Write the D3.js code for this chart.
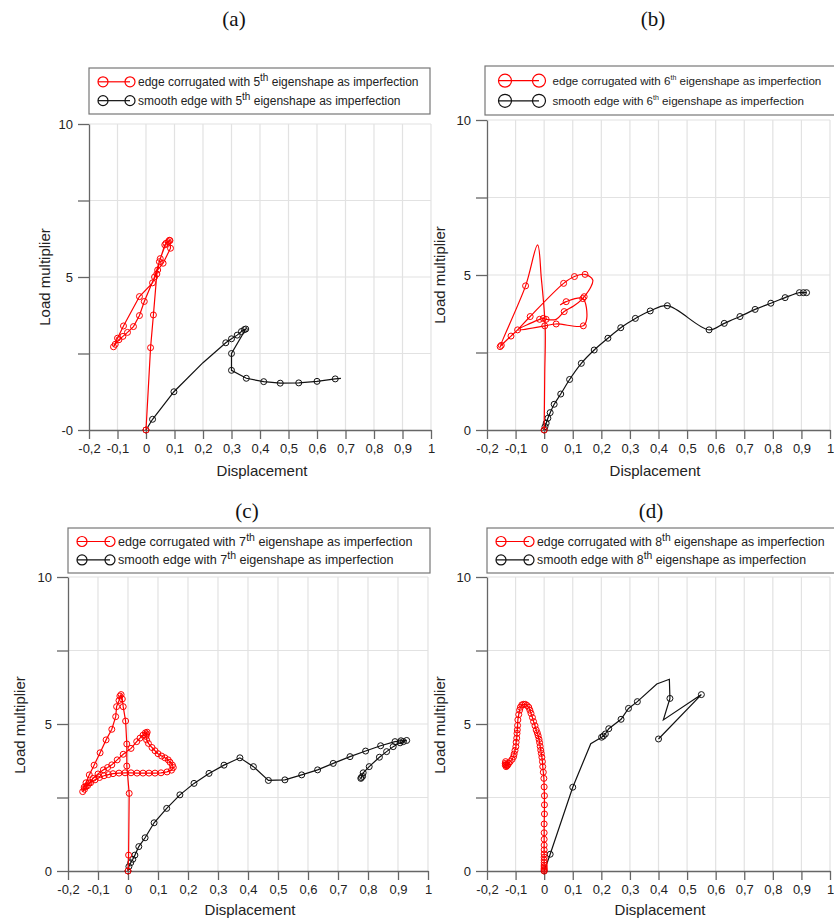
<!DOCTYPE html>
<html>
<head>
<meta charset="utf-8">
<script src="https://cdn.jsdelivr.net/npm/d3@7"></script>
<style>
  body { margin: 0; background: #fff; }
  svg { display: block; font-family: "Liberation Sans", Arial, sans-serif; }
</style>
</head>
<body>
<div id="chart"></div>
<script>
// axis ticks
const xTicks = [-0.2, -0.1, 0, 0.1, 0.2, 0.3, 0.4, 0.5, 0.6, 0.7, 0.8, 0.9, 1];
const xTickLabels = ["-0,2", "-0,1", "0", "0,1", "0,2", "0,3", "0,4", "0,5", "0,6", "0,7", "0,8", "0,9", "1"];
const yTicks = [0, 2.5, 5, 7.5, 10];
const yTickLabelsA = ["-0", "", "5", "", "10"];
const yTickLabels = ["0", "", "5", "", "10"];

const panelTitles = ["(a)", "(b)", "(c)", "(d)"];
const eigenOrders = ["5", "6", "7", "8"];

// [displacement, load multiplier, marker(1/0)]
const redA = [[0,0,1],[0.016,2.69,1],[0.026,3.76,1],[0.038,5.1,1],[0.047,5.5,1],[0.066,6.05,1],[0.078,6.15,1],
  [0.084,6.19,1],[0.086,5.94,1],[0.06,5.45,1],[0.041,5.23,1],[0.023,4.81,1],[-0.023,4.36,1],[-0.079,3.4,1],
  [-0.1,3.0,1],[-0.114,2.72,1],[-0.108,2.8,1],[-0.095,2.95,1],[-0.081,3.06,1],[-0.065,3.19,1],[-0.044,3.38,1],
  [-0.023,3.74,1],[-0.006,4.2,1],[0.03,5.0,1],[0.05,5.6,1],[0.07,6.1,1],[0.082,6.2,1]];
const blackA = [[0,0,1],[0.023,0.35,1],[0.098,1.25,1],[0.2,2.2,0],[0.28,2.85,1],[0.3,2.98,1],[0.32,3.1,1],
  [0.335,3.22,1],[0.345,3.28,1],[0.35,3.3,1],[0.3,2.5,1],[0.3,1.95,1],[0.352,1.69,1],[0.413,1.58,1],
  [0.471,1.53,1],[0.536,1.54,1],[0.6,1.59,1],[0.664,1.67,1],[0.684,1.69,0]];

const redB = [[0,0,1],[0.002,1.8,0],[0.0035,3.33,0],[-0.01,4.9,0],[-0.023,5.97,0],[-0.065,4.65,1],[-0.154,2.69,1],
  [-0.15,2.73,1],[-0.116,3.03,1],[-0.093,3.23,1],[-0.049,3.66,1],[0.068,4.73,1],[0.106,4.95,1],[0.143,5.02,1],
  [0.17,4.84,0],[0.161,4.57,0],[0.14,4.3,1],[0.135,4.24,1],[0.103,4.0,0],[0.07,3.82,1],[0.042,3.57,0],
  [0.007,3.57,1],[-0.003,3.6,1],[-0.016,3.57,1],[-0.049,3.44,0],[-0.093,3.23,0],[0.002,3.36,1],[0.042,3.42,1],
  [0.137,3.36,1],[0.149,3.6,0],[0.135,4.24,0],[0.077,4.14,1],[0.056,4.03,0]];
const blackB = [[0,0,1],[0.003,0.11,1],[0.007,0.22,1],[0.013,0.38,1],[0.021,0.56,1],[0.035,0.83,1],[0.058,1.16,1],
  [0.089,1.63,1],[0.13,2.15,1],[0.175,2.58,1],[0.223,2.96,1],[0.268,3.3,1],[0.319,3.6,1],[0.371,3.84,1],
  [0.431,4.01,1],[0.577,3.23,1],[0.63,3.44,1],[0.685,3.66,1],[0.738,3.89,1],[0.793,4.09,1],[0.843,4.27,1],
  [0.893,4.43,1],[0.907,4.43,1],[0.918,4.43,1]];

const redC = [[0,0,1],[0.002,0.54,1],[0.004,2.64,1],[-0.004,3.57,1],[-0.004,4.32,1],[-0.008,5.1,1],[-0.016,5.59,1],
  [-0.019,5.85,1],[-0.023,6.0,1],[-0.027,5.95,1],[-0.03,5.8,1],[-0.038,5.59,1],[-0.041,5.25,1],[-0.054,4.82,1],
  [-0.073,4.46,1],[-0.093,4.02,1],[-0.113,3.6,1],[-0.129,3.27,1],[-0.14,3.0,1],[-0.146,2.85,1],[-0.151,2.7,1],
  [-0.145,2.78,1],[-0.135,2.9,1],[-0.125,3.0,1],[-0.11,3.1,1],[-0.095,3.18,1],[-0.08,3.24,1],[-0.065,3.28,1],
  [-0.05,3.31,1],[-0.03,3.33,1],[-0.01,3.34,1],[0.01,3.34,1],[0.03,3.33,1],[0.05,3.33,1],[0.07,3.33,1],
  [0.09,3.33,1],[0.11,3.34,1],[0.13,3.37,1],[0.145,3.43,1],[0.151,3.52,1],[0.148,3.6,1],[0.14,3.7,1],
  [0.134,3.78,1],[0.123,3.85,1],[0.112,3.91,1],[0.1,3.99,1],[0.09,4.09,1],[0.08,4.2,1],[0.068,4.34,1],
  [0.062,4.46,1],[0.06,4.58,1],[0.062,4.66,1],[0.064,4.72,1],[0.058,4.7,1],[0.05,4.62,1],[0.04,4.52,1],
  [0.029,4.4,1],[0.01,4.17,1],[-0.016,3.97,1],[-0.036,3.78,1],[-0.054,3.61,1],[-0.068,3.52,1],[-0.082,3.44,1],
  [-0.1,3.3,1],[-0.116,3.15,1],[-0.13,3.0,1],[-0.14,2.88,1]];
const blackC = [[0,0,1],[0.003,0.15,1],[0.009,0.28,1],[0.016,0.4,1],[0.023,0.54,1],[0.036,0.83,1],[0.057,1.13,1],
  [0.087,1.64,1],[0.129,2.13,1],[0.173,2.59,1],[0.22,2.98,1],[0.27,3.32,1],[0.32,3.6,1],[0.373,3.85,1],
  [0.418,3.55,1],[0.468,3.08,1],[0.523,3.1,1],[0.579,3.27,1],[0.632,3.44,1],[0.684,3.66,1],[0.74,3.89,1],
  [0.792,4.08,1],[0.842,4.26,1],[0.89,4.4,1],[0.91,4.43,1],[0.929,4.44,1],[0.918,4.4,1],[0.907,4.36,1],
  [0.884,4.23,1],[0.862,4.06,1],[0.838,3.87,1],[0.804,3.55,1],[0.784,3.34,1],[0.776,3.15,1],[0.782,3.22,1],
  [0.778,3.18,1]];

const redD = [[0,0,1],[0,0.05,1],[0,0.09,1],[0,0.14,1],[0,0.2,1],[0,0.28,1],[0,0.37,1],[0,0.47,1],[0,0.58,1],
  [0,0.72,1],[0,0.88,1],[0,1.08,1],[0,1.3,1],[0,1.6,1],[0.001,1.94,1],[0.001,2.25,1],[0.001,2.56,1],
  [0.0,2.86,1],[-0.001,3.15,1],[-0.003,3.36,1],[-0.005,3.55,1],[-0.006,3.72,1],[-0.008,3.87,1],[-0.01,4.0,1],
  [-0.012,4.11,1],[-0.014,4.24,1],[-0.016,4.37,1],[-0.018,4.48,1],[-0.021,4.6,1],[-0.024,4.7,1],[-0.028,4.8,1],
  [-0.032,4.94,1],[-0.037,5.08,1],[-0.041,5.22,1],[-0.046,5.36,1],[-0.05,5.47,1],[-0.054,5.57,1],[-0.06,5.63,1],
  [-0.066,5.67,1],[-0.072,5.67,1],[-0.078,5.65,1],[-0.083,5.57,1],[-0.086,5.47,1],[-0.089,5.32,1],[-0.092,5.14,1],
  [-0.093,4.95,1],[-0.094,4.8,1],[-0.095,4.68,1],[-0.096,4.52,1],[-0.098,4.38,1],[-0.099,4.23,1],[-0.102,4.1,1],
  [-0.105,3.98,1],[-0.107,3.89,1],[-0.112,3.8,1],[-0.119,3.72,1],[-0.124,3.66,1],[-0.128,3.6,1],[-0.133,3.55,1],
  [-0.136,3.6,1],[-0.136,3.66,1],[-0.135,3.72,1],[-0.133,3.62,1],[-0.13,3.58,1]];
const blackD = [[0,0,1],[0.021,0.57,1],[0.1,2.85,1],[0.163,4.33,0],[0.201,4.55,1],[0.207,4.59,1],[0.214,4.66,1],
  [0.226,4.84,1],[0.269,5.16,1],[0.295,5.53,1],[0.326,5.76,1],[0.394,6.36,0],[0.438,6.52,0],[0.44,5.87,1],
  [0.417,5.14,0],[0.55,6.0,1],[0.4,4.49,1]];

const W = 834, H = 920;
const svg = d3.select("#chart").append("svg").attr("width", W).attr("height", H);

const panels = [
  { red: redA, black: blackA, yLabels: yTickLabelsA, x0: 89, x1: 431, yTop: 124, yBot: 430,
    title: [234, 26], legend: [89, 68, 341, 46], lr: 5, gap: 27, fs: 12, sup: 10,
    ylab: [45, 277], xlab: [262, 476], smooth: false },
  { red: redB, black: blackB, yLabels: yTickLabels, x0: 487, x1: 830, yTop: 120, yBot: 430,
    title: [653, 26], legend: [485, 66, 360, 49], lr: 6.5, gap: 34, fs: 11.6, sup: 7,
    ylab: [440, 275], xlab: [655, 476], smooth: true },
  { red: redC, black: blackC, yLabels: yTickLabels, x0: 68, x1: 428, yTop: 577, yBot: 871,
    title: [247, 518], legend: [68, 528, 362, 45], lr: 5, gap: 28, fs: 12.6, sup: 10.5,
    ylab: [20, 725], xlab: [250, 915], smooth: false },
  { red: redD, black: blackD, yLabels: yTickLabels, x0: 487, x1: 830, yTop: 577, yBot: 871,
    title: [651, 518], legend: [487, 528, 360, 45], lr: 5, gap: 28, fs: 12.3, sup: 10.3,
    ylab: [440, 725], xlab: [660, 915], smooth: false }
];

panels.forEach((p, i) => drawPanel(p, i));

function drawPanel(p, i) {
  const x = d3.scaleLinear().domain([-0.2, 1]).range([p.x0, p.x1]);
  const y = d3.scaleLinear().domain([0, 10]).range([p.yBot, p.yTop]);
  const g = svg.append("g");

  // grid
  g.selectAll(".vg").data(xTicks.slice(1)).join("line")
    .attr("x1", d => x(d)).attr("x2", d => x(d))
    .attr("y1", p.yTop).attr("y2", p.yBot)
    .attr("stroke", "#e2e2e2").attr("stroke-width", 1.2);
  g.selectAll(".hg").data(yTicks.slice(1)).join("line")
    .attr("x1", p.x0).attr("x2", p.x1)
    .attr("y1", d => y(d)).attr("y2", d => y(d))
    .attr("stroke", "#e2e2e2").attr("stroke-width", 1.2);

  // axes
  const xAxis = d3.axisBottom(x).tickValues(xTicks)
    .tickFormat((d, k) => xTickLabels[k]).tickSize(9).tickSizeOuter(0).tickPadding(5);
  const gx = g.append("g").attr("transform", `translate(0,${p.yBot})`).call(xAxis);
  const yAxis = d3.axisLeft(y).tickValues(yTicks)
    .tickFormat((d, k) => p.yLabels[k]).tickSize(11).tickSizeOuter(0).tickPadding(5);
  const gy = g.append("g").attr("transform", `translate(${p.x0},0)`).call(yAxis);
  [gx, gy].forEach(a => {
    a.selectAll("path, line").attr("stroke", "#666").attr("stroke-width", 1.3);
    a.selectAll("text").attr("fill", "#222").style("font-size", "13px")
      .style("font-family", "'Liberation Sans', Arial, sans-serif");
  });

  // axis titles
  g.append("text").attr("x", p.xlab[0]).attr("y", p.xlab[1])
    .attr("text-anchor", "middle").attr("font-size", 15).attr("fill", "#222").text("Displacement");
  g.append("text").attr("transform", `translate(${p.ylab[0]},${p.ylab[1]}) rotate(-90)`)
    .attr("text-anchor", "middle").attr("dy", "0.35em").attr("font-size", 15).attr("fill", "#222")
    .text("Load multiplier");

  // panel title
  g.append("text").attr("x", p.title[0]).attr("y", p.title[1])
    .attr("text-anchor", "middle").attr("font-family", "'Liberation Serif', serif")
    .attr("font-size", 21).attr("fill", "#111").text(panelTitles[i]);

  // series
  const line = d3.line().x(d => x(d[0])).y(d => y(d[1]))
    .curve(p.smooth ? d3.curveCatmullRom.alpha(0.5) : d3.curveLinear);
  [[p.black, "#111"], [p.red, "#ff0000"]].forEach(([data, col]) => {
    g.append("path").datum(data).attr("d", line)
      .attr("fill", "none").attr("stroke", col).attr("stroke-width", 1.2);
    g.selectAll(null).data(data.filter(d => d[2])).join("circle")
      .attr("cx", d => x(d[0])).attr("cy", d => y(d[1])).attr("r", 3)
      .attr("fill", "none").attr("stroke", col).attr("stroke-width", 1);
  });

  // legend
  const [lx, ly, lw, lh] = p.legend;
  const lg = g.append("g");
  lg.append("rect").attr("x", lx).attr("y", ly).attr("width", lw).attr("height", lh)
    .attr("fill", "#fff").attr("stroke", "#777").attr("stroke-width", 1.2);
  const rows = [
    { col: "#ff0000", pre: "edge corrugated with " },
    { col: "#111", pre: "smooth edge with " }
  ];
  const c1 = lx + (p.lr > 6 ? 20 : 14), c2 = c1 + p.gap;
  rows.forEach((r, k) => {
    const ry = ly + lh * (k === 0 ? 0.3 : 0.71);
    lg.append("line").attr("x1", c1 - p.lr).attr("x2", c2).attr("y1", ry).attr("y2", ry)
      .attr("stroke", r.col).attr("stroke-width", 1.2);
    [c1, c2].forEach(cx => lg.append("circle").attr("cx", cx).attr("cy", ry).attr("r", p.lr)
      .attr("fill", "none").attr("stroke", r.col).attr("stroke-width", 1.2));
    const t = lg.append("text").attr("x", c2 + p.lr + (p.lr > 6 ? 7 : 3)).attr("y", ry).attr("dy", "0.35em")
      .attr("font-size", p.fs).attr("fill", "#222");
    t.append("tspan").text(r.pre + eigenOrders[i]);
    t.append("tspan").attr("dy", -5).attr("font-size", p.sup).text("th");
    t.append("tspan").attr("dy", 5).text(" eigenshape as imperfection");
  });
}
</script>
</body>
</html>
